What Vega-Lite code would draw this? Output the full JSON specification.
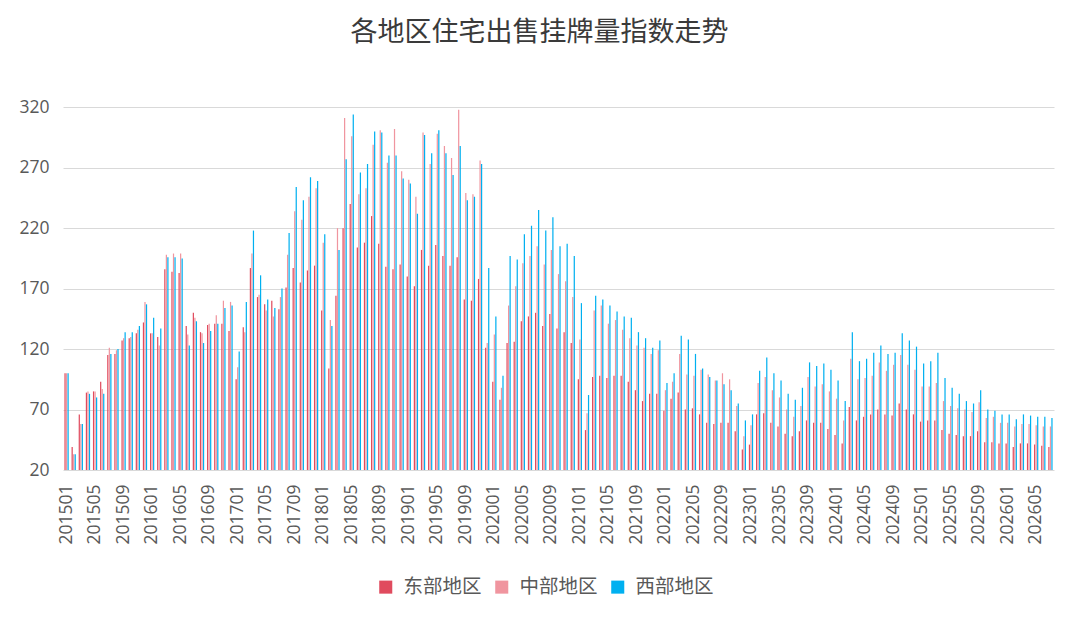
{
  "$schema": "https://vega.github.io/schema/vega-lite/v6.json",
  "autosize": {"type": "none"},
  "padding": {"left": 63, "top": 77, "right": 26, "bottom": 152},
  "width": 991,
  "height": 393,
  "background": "white",
  "title": {
    "text": "各地区住宅出售挂牌量指数走势",
    "font": "Noto Sans CJK SC",
    "fontSize": 27,
    "fontWeight": "normal",
    "color": "#3a3a3a",
    "anchor": "middle",
    "dx": -19,
    "offset": 30
  },
  "data": {
    "values": [
      {"m": "201501", "东部地区": 100, "中部地区": 100, "西部地区": 100},
      {"m": "201502", "东部地区": 39, "中部地区": 33, "西部地区": 33},
      {"m": "201503", "东部地区": 66, "中部地区": 58, "西部地区": 58},
      {"m": "201504", "东部地区": 84, "中部地区": 85, "西部地区": 83},
      {"m": "201505", "东部地区": 85, "中部地区": 85, "西部地区": 80},
      {"m": "201506", "东部地区": 93, "中部地区": 87, "西部地区": 83},
      {"m": "201507", "东部地区": 115, "中部地区": 121, "西部地区": 116},
      {"m": "201508", "东部地区": 116, "中部地区": 119, "西部地区": 120},
      {"m": "201509", "东部地区": 127, "中部地区": 129, "西部地区": 134},
      {"m": "201510", "东部地区": 129, "中部地区": 130, "西部地区": 134},
      {"m": "201511", "东部地区": 133, "中部地区": 136, "西部地区": 139},
      {"m": "201512", "东部地区": 142, "中部地区": 159, "西部地区": 157},
      {"m": "201601", "东部地区": 133, "中部地区": 133, "西部地区": 146},
      {"m": "201602", "东部地区": 130, "中部地区": 123, "西部地区": 137},
      {"m": "201603", "东部地区": 186, "中部地区": 198, "西部地区": 196},
      {"m": "201604", "东部地区": 184, "中部地区": 199, "西部地区": 196},
      {"m": "201605", "东部地区": 183, "中部地区": 199, "西部地区": 195},
      {"m": "201606", "东部地区": 139, "中部地区": 132, "西部地区": 123},
      {"m": "201607", "东部地区": 150, "中部地区": 146, "西部地区": 143},
      {"m": "201608", "东部地区": 134, "中部地区": 133, "西部地区": 125},
      {"m": "201609", "东部地区": 140, "中部地区": 141, "西部地区": 135},
      {"m": "201610", "东部地区": 141, "中部地区": 148, "西部地区": 141},
      {"m": "201611", "东部地区": 141, "中部地区": 160, "西部地区": 154},
      {"m": "201612", "东部地区": 135, "中部地区": 159, "西部地区": 156},
      {"m": "201701", "东部地区": 95, "中部地区": 105, "西部地区": 118},
      {"m": "201702", "东部地区": 138, "中部地区": 134, "西部地区": 159},
      {"m": "201703", "东部地区": 187, "中部地区": 199, "西部地区": 218},
      {"m": "201704", "东部地区": 163, "中部地区": 165, "西部地区": 181},
      {"m": "201705", "东部地区": 157, "中部地区": 152, "西部地区": 161},
      {"m": "201706", "东部地区": 160, "中部地区": 147, "西部地区": 154},
      {"m": "201707", "东部地区": 153, "中部地区": 163, "西部地区": 170},
      {"m": "201708", "东部地区": 171, "中部地区": 198, "西部地区": 216},
      {"m": "201709", "东部地区": 187, "中部地区": 234, "西部地区": 254},
      {"m": "201710", "东部地区": 175, "中部地区": 227, "西部地区": 243},
      {"m": "201711", "东部地区": 185, "中部地区": 246, "西部地区": 262},
      {"m": "201712", "东部地区": 189, "中部地区": 253, "西部地区": 259},
      {"m": "201801", "东部地区": 152, "中部地区": 208, "西部地区": 215},
      {"m": "201802", "东部地区": 104, "中部地区": 144, "西部地区": 139},
      {"m": "201803", "东部地区": 164, "中部地区": 220, "西部地区": 202},
      {"m": "201804", "东部地区": 220, "中部地区": 311, "西部地区": 277},
      {"m": "201805", "东部地区": 240, "中部地区": 296, "西部地区": 314},
      {"m": "201806", "东部地区": 204, "中部地区": 248, "西部地区": 266},
      {"m": "201807", "东部地区": 208, "中部地区": 253, "西部地区": 273},
      {"m": "201808", "东部地区": 230, "中部地区": 289, "西部地区": 300},
      {"m": "201809", "东部地区": 207, "中部地区": 301, "西部地区": 299},
      {"m": "201810", "东部地区": 188, "中部地区": 274, "西部地区": 280},
      {"m": "201811", "东部地区": 186, "中部地区": 302, "西部地区": 280},
      {"m": "201812", "东部地区": 190, "中部地区": 267, "西部地区": 261},
      {"m": "201901", "东部地区": 180, "中部地区": 260, "西部地区": 257},
      {"m": "201902", "东部地区": 172, "中部地区": 246, "西部地区": 232},
      {"m": "201903", "东部地区": 202, "中部地区": 299, "西部地区": 297},
      {"m": "201904", "东部地区": 189, "中部地区": 273, "西部地区": 282},
      {"m": "201905", "东部地区": 206, "中部地区": 298, "西部地区": 301},
      {"m": "201906", "东部地区": 197, "中部地区": 288, "西部地区": 282},
      {"m": "201907", "东部地区": 189, "中部地区": 278, "西部地区": 264},
      {"m": "201908", "东部地区": 196, "中部地区": 318, "西部地区": 288},
      {"m": "201909", "东部地区": 161, "中部地区": 249, "西部地区": 243},
      {"m": "201910", "东部地区": 160, "中部地区": 248, "西部地区": 246},
      {"m": "201911", "东部地区": 178, "中部地区": 276, "西部地区": 273},
      {"m": "201912", "东部地区": 121, "中部地区": 125, "西部地区": 187},
      {"m": "202001", "东部地区": 93, "中部地区": 132, "西部地区": 147},
      {"m": "202002", "东部地区": 78, "中部地区": 88, "西部地区": 98},
      {"m": "202003", "东部地区": 125, "中部地区": 156, "西部地区": 197},
      {"m": "202004", "东部地区": 126, "中部地区": 172, "西部地区": 194},
      {"m": "202005", "东部地区": 143, "中部地区": 191, "西部地区": 215},
      {"m": "202006", "东部地区": 147, "中部地区": 197, "西部地区": 222},
      {"m": "202007", "东部地区": 150, "中部地区": 205, "西部地区": 235},
      {"m": "202008", "东部地区": 139, "中部地区": 190, "西部地区": 218},
      {"m": "202009", "东部地区": 149, "中部地区": 202, "西部地区": 229},
      {"m": "202010", "东部地区": 137, "中部地区": 182, "西部地区": 205},
      {"m": "202011", "东部地区": 134, "中部地区": 176, "西部地区": 207},
      {"m": "202012", "东部地区": 125, "中部地区": 163, "西部地区": 197},
      {"m": "202101", "东部地区": 95, "中部地区": 128, "西部地区": 158},
      {"m": "202102", "东部地区": 53, "中部地区": 67, "西部地区": 82},
      {"m": "202103", "东部地区": 97, "中部地区": 152, "西部地区": 164},
      {"m": "202104", "东部地区": 98, "中部地区": 156, "西部地区": 161},
      {"m": "202105", "东部地区": 96, "中部地区": 141, "西部地区": 156},
      {"m": "202106", "东部地区": 98, "中部地区": 144, "西部地区": 151},
      {"m": "202107", "东部地区": 98, "中部地区": 136, "西部地区": 147},
      {"m": "202108", "东部地区": 93, "中部地区": 129, "西部地区": 146},
      {"m": "202109", "东部地区": 86, "中部地区": 123, "西部地区": 134},
      {"m": "202110", "东部地区": 77, "中部地区": 121, "西部地区": 129},
      {"m": "202111", "东部地区": 83, "中部地区": 116, "西部地区": 121},
      {"m": "202112", "东部地区": 83, "中部地区": 119, "西部地区": 127},
      {"m": "202201", "东部地区": 69, "中部地区": 86, "西部地区": 92},
      {"m": "202202", "东部地区": 79, "中部地区": 93, "西部地区": 100},
      {"m": "202203", "东部地区": 84, "中部地区": 116, "西部地区": 131},
      {"m": "202204", "东部地区": 70, "中部地区": 99, "西部地区": 128},
      {"m": "202205", "东部地区": 71, "中部地区": 98, "西部地区": 116},
      {"m": "202206", "东部地区": 66, "中部地区": 103, "西部地区": 104},
      {"m": "202207", "东部地区": 59, "中部地区": 99, "西部地区": 97},
      {"m": "202208", "东部地区": 58, "中部地区": 94, "西部地区": 94},
      {"m": "202209", "东部地区": 59, "中部地区": 100, "西部地区": 91},
      {"m": "202210", "东部地区": 59, "中部地区": 95, "西部地区": 86},
      {"m": "202211", "东部地区": 52, "中部地区": 73, "西部地区": 75},
      {"m": "202212", "东部地区": 37, "中部地区": 48, "西部地区": 61},
      {"m": "202301", "东部地区": 41, "中部地区": 57, "西部地区": 66},
      {"m": "202302", "东部地区": 66, "中部地区": 92, "西部地区": 102},
      {"m": "202303", "东部地区": 67, "中部地区": 97, "西部地区": 113},
      {"m": "202304", "东部地区": 59, "中部地区": 86, "西部地区": 100},
      {"m": "202305", "东部地区": 56, "中部地区": 80, "西部地区": 94},
      {"m": "202306", "东部地区": 50, "中部地区": 70, "西部地区": 83},
      {"m": "202307", "东部地区": 48, "中部地区": 64, "西部地区": 78},
      {"m": "202308", "东部地区": 52, "中部地区": 73, "西部地区": 88},
      {"m": "202309", "东部地区": 61, "中部地区": 97, "西部地区": 109},
      {"m": "202310", "东部地区": 59, "中部地区": 89, "西部地区": 106},
      {"m": "202311", "东部地区": 59, "中部地区": 91, "西部地区": 108},
      {"m": "202312", "东部地区": 54, "中部地区": 85, "西部地区": 103},
      {"m": "202401", "东部地区": 49, "中部地区": 79, "西部地区": 94},
      {"m": "202402", "东部地区": 42, "中部地区": 61, "西部地区": 77},
      {"m": "202403", "东部地区": 72, "中部地区": 112, "西部地区": 134},
      {"m": "202404", "东部地区": 61, "中部地区": 95, "西部地区": 110},
      {"m": "202405", "东部地区": 64, "中部地区": 96, "西部地区": 112},
      {"m": "202406", "东部地区": 66, "中部地区": 98, "西部地区": 117},
      {"m": "202407", "东部地区": 70, "中部地区": 109, "西部地区": 123},
      {"m": "202408", "东部地区": 66, "中部地区": 102, "西部地区": 116},
      {"m": "202409", "东部地区": 65, "中部地区": 107, "西部地区": 117},
      {"m": "202410", "东部地区": 75, "中部地区": 115, "西部地区": 133},
      {"m": "202411", "东部地区": 70, "中部地区": 107, "西部地区": 127},
      {"m": "202412", "东部地区": 66, "中部地区": 103, "西部地区": 122},
      {"m": "202501", "东部地区": 60, "中部地区": 89, "西部地区": 108},
      {"m": "202502", "东部地区": 61, "中部地区": 89, "西部地区": 110},
      {"m": "202503", "东部地区": 61, "中部地区": 92, "西部地区": 117},
      {"m": "202504", "东部地区": 53, "中部地区": 77, "西部地区": 96},
      {"m": "202505", "东部地区": 50, "中部地区": 73, "西部地区": 88},
      {"m": "202506", "东部地区": 49, "中部地区": 71, "西部地区": 83},
      {"m": "202507", "东部地区": 48, "中部地区": 70, "西部地区": 77},
      {"m": "202508", "东部地区": 48, "中部地区": 68, "西部地区": 75},
      {"m": "202509", "东部地区": 52, "中部地区": 76, "西部地区": 86},
      {"m": "202510", "东部地区": 43, "中部地区": 63, "西部地区": 70},
      {"m": "202511", "东部地区": 43, "中部地区": 64, "西部地区": 69},
      {"m": "202512", "东部地区": 42, "中部地区": 59, "西部地区": 66},
      {"m": "202601", "东部地区": 42, "中部地区": 59, "西部地区": 66},
      {"m": "202602", "东部地区": 39, "中部地区": 56, "西部地区": 62},
      {"m": "202603", "东部地区": 42, "中部地区": 58, "西部地区": 66},
      {"m": "202604", "东部地区": 42, "中部地区": 58, "西部地区": 65},
      {"m": "202605", "东部地区": 41, "中部地区": 57, "西部地区": 64},
      {"m": "202606", "东部地区": 40, "中部地区": 56, "西部地区": 64},
      {"m": "202607", "东部地区": 39, "中部地区": 56, "西部地区": 63}
    ]
  },
  "transform": [
    {"fold": ["东部地区", "中部地区", "西部地区"], "as": ["region", "v"]}
  ],
  "mark": {"type": "bar", "clip": true},
  "encoding": {
    "x": {
      "field": "m",
      "type": "ordinal",
      "sort": null,
      "title": null,
      "scale": {"paddingInner": 0.4, "paddingOuter": 0.2},
      "axis": {
        "labelAngle": -90,
        "labelExpr": "(toNumber(substring(datum.value, 4, 6)) - 1) % 4 == 0 ? datum.value : ''",
        "labelFont": "Open Sans",
        "labelFontSize": 17.5,
        "labelColor": "#595959",
        "labelPadding": 14,
        "labelOverlap": false,
        "ticks": false,
        "domain": false,
        "grid": false
      }
    },
    "xOffset": {
      "field": "region",
      "type": "nominal",
      "sort": ["东部地区", "中部地区", "西部地区"],
      "scale": {"paddingInner": 0.2}
    },
    "y": {
      "field": "v",
      "type": "quantitative",
      "stack": null,
      "title": null,
      "scale": {"domain": [20, 345], "zero": false, "nice": false},
      "axis": {
        "values": [20, 70, 120, 170, 220, 270, 320],
        "labelFont": "Open Sans",
        "labelFontSize": 17.5,
        "labelColor": "#595959",
        "labelPadding": 14,
        "ticks": false,
        "domain": false,
        "grid": true,
        "gridColor": "#d9d9d9",
        "gridWidth": 1.2
      }
    },
    "y2": {"datum": 20},
    "color": {
      "field": "region",
      "type": "nominal",
      "sort": ["东部地区", "中部地区", "西部地区"],
      "scale": {
        "domain": ["东部地区", "中部地区", "西部地区"],
        "range": ["#e04b5e", "#f0959f", "#00b0f0"]
      },
      "legend": {
        "title": null,
        "orient": "none",
        "direction": "horizontal",
        "legendX": 313,
        "legendY": 500,
        "symbolType": "square",
        "symbolSize": 170,
        "symbolStrokeWidth": 0,
        "labelFont": "Noto Sans CJK SC",
        "labelFontSize": 19.5,
        "labelColor": "#595959",
        "labelOffset": 8,
        "columnPadding": 10,
        "padding": 0
      }
    }
  },
  "config": {
    "view": {"stroke": null}
  }
}
